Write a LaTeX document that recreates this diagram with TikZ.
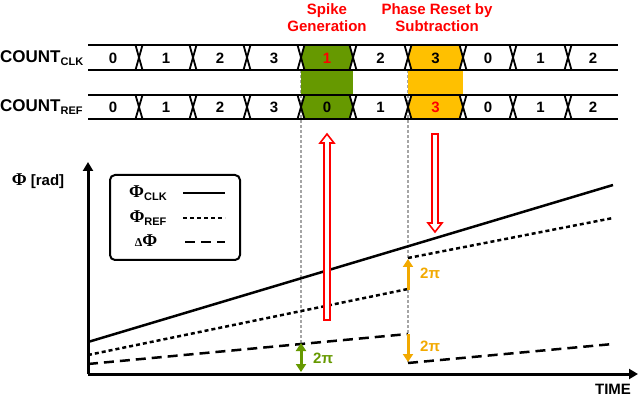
\documentclass[tikz,border=0pt]{standalone}
\usepackage{fontspec}
\setmainfont{Liberation Sans}
\newfontfamily\phifont{Liberation Serif}
\usetikzlibrary{arrows.meta}

\definecolor{spikegreen}{RGB}{102,153,0}
\definecolor{resetyellow}{RGB}{255,192,0}
\definecolor{twopiorange}{RGB}{242,169,0}
\definecolor{guidegray}{RGB}{165,165,165}

\newcommand{\lowtext}[1]{\raisebox{-0.3ex}{\fontsize{11}{11}\selectfont #1}}
\newcommand{\Phisym}{{\phifont\bfseries\fontsize{18}{18}\selectfont Φ}}

\tikzset{
    busline/.style={line width=2pt},
    crossline/.style={line width=1.8pt},
    digit/.style={font=\fontsize{15}{17}\selectfont\bfseries, inner sep=0pt},
    redtitle/.style={font=\fontsize{15}{17}\selectfont\bfseries, text=red, align=center, inner sep=0pt},
    rowlabel/.style={font=\fontsize{17}{19}\selectfont\bfseries, anchor=west, inner sep=0pt},
    axis/.style={line width=3pt, -{Triangle[length=9pt, width=10pt]}},
    guide/.style={guidegray, line width=1.2pt, dash pattern=on 3pt off 2pt},
    phiclk/.style={line width=2.5pt},
    phiref/.style={line width=2.5pt, dash pattern=on 4pt off 3pt},
    dphi/.style={line width=2.5pt, dash pattern=on 10pt off 6pt},
    hollow/.style={draw=red, fill=white, line width=1.6pt, line join=miter},
    jump/.style={line width=3pt, -{Triangle[length=8pt, width=10pt]}},
    twopi/.style={font=\fontsize{15}{17}\selectfont\bfseries, anchor=west, inner sep=0pt},
}

\begin{document}
\begin{tikzpicture}[x=1pt, y=-1pt]
    \useasboundingbox (0,0) rectangle (640,398);

    % gray guides from the counters down to the phase jumps
    \coordinate (spiketop) at (301,70);
    \coordinate (spikebot) at (301,343);
    \coordinate (resettop) at (408,70);
    \coordinate (resetbot) at (408,362);
    \draw[guide] (spiketop) -- (spikebot);
    \draw[guide] (resettop) -- (resetbot);

    % highlighted counter values
    \fill[spikegreen] (301,57.5) -- (304.5,45) -- (349.5,45) -- (353,57.5) -- (349.5,70) -- (304.5,70) -- cycle;
    \fill[spikegreen] (301,70) rectangle (353,95);
    \fill[spikegreen] (301,107) -- (304.5,95) -- (349.5,95) -- (353,107) -- (349.5,119) -- (304.5,119) -- cycle;
    \fill[resetyellow] (408,57.5) -- (411.5,45) -- (459.5,45) -- (463,57.5) -- (459.5,70) -- (411.5,70) -- cycle;
    \fill[resetyellow] (408,70) rectangle (463,95);
    \fill[resetyellow] (408,107) -- (411.5,95) -- (459.5,95) -- (463,107) -- (459.5,119) -- (411.5,119) -- cycle;

    % counter buses
    \foreach \yt/\yb in {45/70, 95/119} {
        \draw[busline] (88,\yt) -- (618,\yt);
        \draw[busline] (88,\yb) -- (618,\yb);
        \foreach \x in {139,193,247,301,353,408,463,513,568} {
            \draw[crossline] (\x-3.5,\yt) -- (\x+3.5,\yb);
            \draw[crossline] (\x-3.5,\yb) -- (\x+3.5,\yt);
        }
    }

    \node[rowlabel] (clklabel) at (0,58) {COUNT\lowtext{CLK}};
    \node[rowlabel] (reflabel) at (0,107) {COUNT\lowtext{REF}};

    \foreach \x/\t/\c [count=\i] in {113/0/black, 166/1/black, 220/2/black, 274/3/black, 327/1/red,
                                      380.5/2/black, 435.5/3/black, 488/0/black, 540.5/1/black, 593/2/black} {
        \node[digit, text=\c] (clk\i) at (\x,58) {\t};
    }
    \foreach \x/\t/\c [count=\i] in {113/0/black, 166/1/black, 220/2/black, 274/3/black, 327/0/black,
                                      380.5/1/black, 435.5/3/red, 488/0/black, 540.5/1/black, 593/2/black} {
        \node[digit, text=\c] (ref\i) at (\x,107) {\t};
    }

    \node[redtitle] (spiketitle) at (327,18) {Spike\\Generation};
    \node[redtitle] (resettitle) at (437,18) {Phase Reset by\\Subtraction};

    % phase plot
    \coordinate (O) at (88,374);
    \coordinate (ytip) at (88,162);
    \coordinate (xtip) at (638,374);
    \draw[axis] (O) -- (ytip);
    \draw[axis] (O) -- (xtip);
    \node[digit] (ylabel) at (38,181) {\Phisym\ [rad]};
    \node[digit] (xlabel) at (613,389) {TIME};

    \draw[phiclk] (88,342) -- (613,185);
    \draw[phiref] (88,355) -- (408,289);
    \draw[phiref] (408,258) -- (613,218);
    \draw[dphi] (88,364) -- (408,334);
    \draw[dphi] (408,363) -- (613,344);

    % legend
    \node[draw, line width=2pt, rounded corners=5pt, minimum width=130pt, minimum height=85pt] (legend) at (175,217.5) {};
    \node[digit] (legclk) at (148,193) {\Phisym\lowtext{CLK}};
    \node[digit] (legref) at (148,218) {\Phisym\lowtext{REF}};
    \node[digit] (legd) at (146,241) {{\phifont\bfseries\fontsize{12}{12}\selectfont Δ}\Phisym};
    \draw[phiclk] (183,193) -- (225,193);
    \draw[phiref] (183,218) -- (225,218);
    \draw[dphi] (185,242) -- (225,242);

    % phase jumps
    \coordinate (spikeaxis) at (301,372);
    \draw[jump, spikegreen, {Triangle[length=8pt, width=10pt]}-{Triangle[length=8pt, width=10pt]}] (spikebot) -- (spikeaxis);
    \node[twopi, text=spikegreen] (spikepi) at (313,358) {2π};

    \coordinate (refbefore) at (408,290);
    \coordinate (refafter) at (408,259);
    \coordinate (dbefore) at (408,334);
    \draw[jump, twopiorange] (refbefore) -- (refafter);
    \node[twopi, text=twopiorange] (refpi) at (420,273) {2π};
    \draw[jump, twopiorange] (dbefore) -- (resetbot);
    \node[twopi, text=twopiorange] (dpi) at (420,346) {2π};

    % hollow red arrows
    \draw[hollow] (324,320) -- (324,143) -- (320,143) -- (327,134) -- (334,143) -- (330,143) -- (330,320) -- cycle;
    \draw[hollow] (432,134) -- (432,223) -- (428,223) -- (435,232) -- (442,223) -- (438,223) -- (438,134) -- cycle;
\end{tikzpicture}
\end{document}
